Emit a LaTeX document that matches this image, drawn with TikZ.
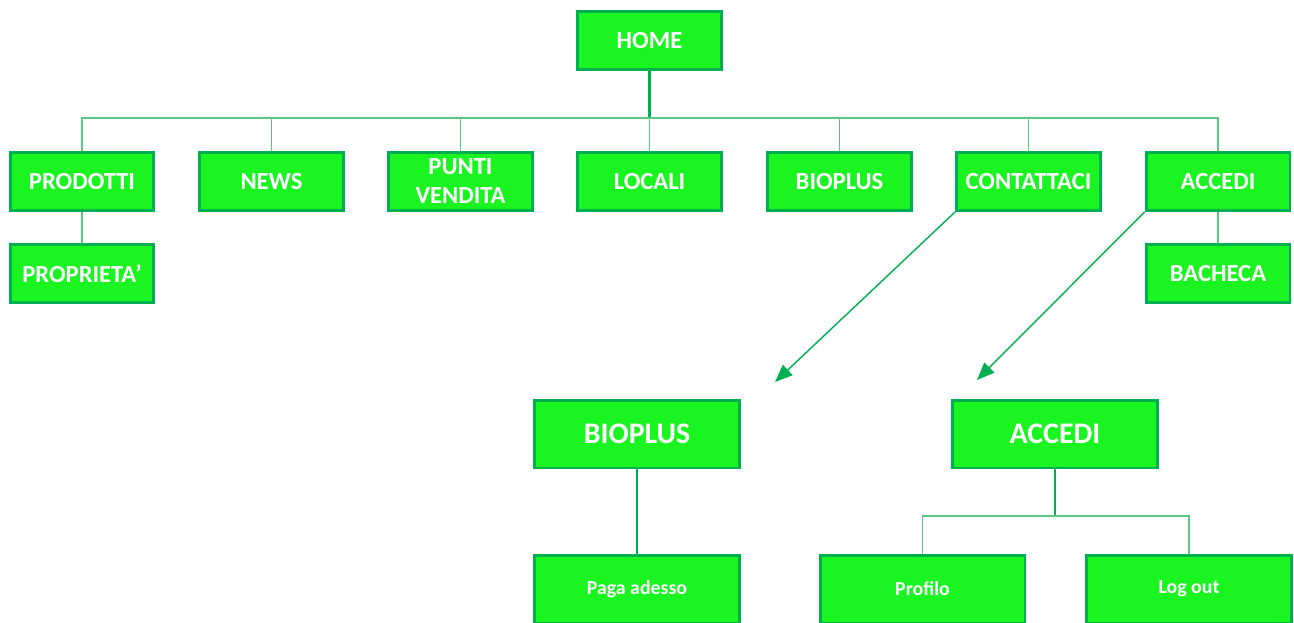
\documentclass[tikz,border=0pt]{standalone}
\usepackage{fontspec}
\setmainfont{Carlito}
\usetikzlibrary{arrows.meta}

\definecolor{boxgreen}{RGB}{26,245,34}
\definecolor{linegreen}{RGB}{0,176,80}
\definecolor{palegreen}{RGB}{90,200,130}

\begin{document}
\begin{tikzpicture}[
  x=0.02cm, y=-0.02cm,
  pbox/.style={draw=linegreen,fill=boxgreen,line width=1.7pt,minimum width=2.88cm,minimum height=1.16cm,
    inner sep=1pt,text=white,align=center,font=\fontsize{14}{16.5}\selectfont\bfseries},
  bigbox/.style={pbox,minimum width=4.1cm,minimum height=1.36cm,font=\fontsize{17}{19}\selectfont\bfseries},
  subbox/.style={pbox,minimum width=4.1cm,minimum height=1.36cm,font=\fontsize{11.3}{13}\selectfont\bfseries},
  link/.style={draw=palegreen,line width=0.7pt},
  stem/.style={draw=linegreen,line width=1.2pt},
  jump/.style={draw=linegreen,line width=0.8pt,-{Triangle[length=10pt,width=8pt]}}
]
  \useasboundingbox (0,0) rectangle (1294,622);

  % top level
  \node[pbox] (home) at (649.5,40.5) {HOME};

  % main menu
  \node[pbox] (prodotti) at (82,181.5) {PRODOTTI};
  \node[pbox] (news) at (271.5,181.5) {NEWS};
  \node[pbox] (punti) at (460.5,181.5) {PUNTI\\VENDITA};
  \node[pbox] (locali) at (649.5,181.5) {LOCALI};
  \node[pbox] (bioplus) at (839.5,181.5) {BIOPLUS};
  \node[pbox] (contattaci) at (1028.5,181.5) {CONTATTACI};
  \node[pbox] (accedi) at (1218,181.5) {ACCEDI};

  % sub pages
  \node[pbox] (proprieta) at (82,273.5) {PROPRIETA’};
  \node[pbox] (bacheca) at (1218,273.5) {BACHECA};

  % detail pages
  \node[bigbox] (bioplusB) at (637,434) {BIOPLUS};
  \node[bigbox] (accediB) at (1055,434) {ACCEDI};
  \node[subbox] (paga) at (637,589) {Paga adesso};
  \node[subbox] (profilo) at (922.5,589) {Profilo};
  \node[subbox] (logout) at (1189,589) {Log out};

  % bus coordinates and arrow ends
  \coordinate (bus) at (649.5,118);
  \coordinate (busB) at (1055,516);
  \coordinate (tipA) at (775,382);
  \coordinate (tipB) at (977,380);

  % menu edges
  \draw[stem] (home) -- (bus);
  \draw[link] (prodotti.north) -- (prodotti.north |- bus) -- (accedi.north |- bus) -- (accedi.north);
  \foreach \n in {news,punti,locali,bioplus,contattaci}
    \draw[link] (\n.north) -- (\n.north |- bus);
  \draw[link] (prodotti) -- (proprieta);
  \draw[link] (accedi) -- (bacheca);

  % jumps to detail pages
  \draw[jump] (contattaci.south west) -- (tipA);
  \draw[jump] (accedi.south west) -- (tipB);

  % detail edges
  \draw[stem] (bioplusB) -- (paga);
  \draw[stem] (accediB) -- (busB);
  \draw[link] (profilo.north) -- (profilo.north |- busB) -- (logout.north |- busB) -- (logout.north);

\end{tikzpicture}
\end{document}
